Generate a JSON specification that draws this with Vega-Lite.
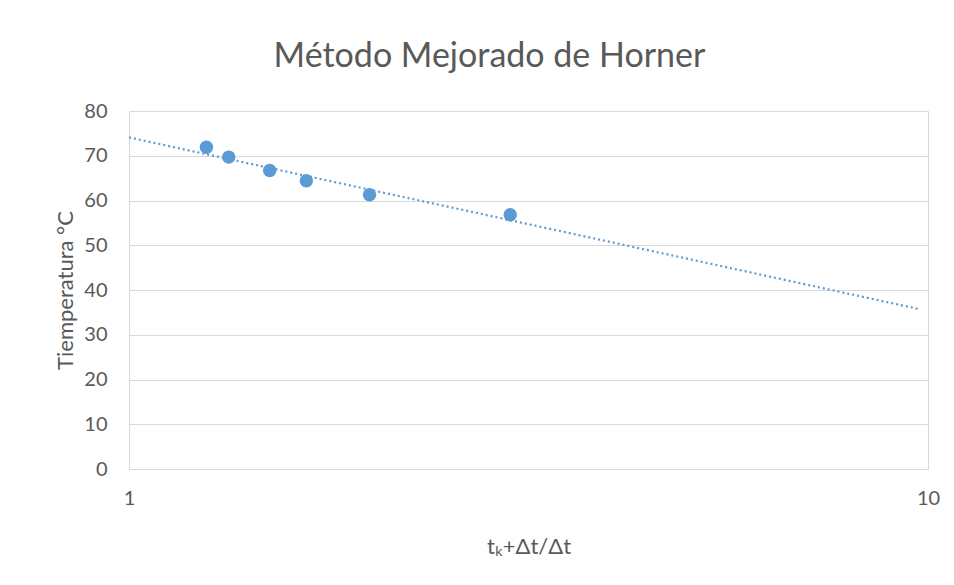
{
  "$schema": "https://vega.github.io/schema/vega-lite/v6.json",
  "width": 799,
  "height": 358,
  "autosize": {"type": "none"},
  "padding": {"left": 129, "top": 111, "right": 26, "bottom": 116},
  "background": "white",
  "title": {
    "text": "Método Mejorado de Horner",
    "font": "Lato",
    "fontSize": 34,
    "fontWeight": "normal",
    "color": "#595959",
    "anchor": "middle",
    "frame": "group",
    "baseline": "alphabetic",
    "offset": 0,
    "dx": -39
  },
  "config": {
    "view": {"stroke": "#D9D9D9", "strokeWidth": 1},
    "axis": {
      "labelFont": "Lato",
      "titleFont": "Lato",
      "labelColor": "#595959",
      "titleColor": "#595959",
      "labelFontSize": 20,
      "titleFontSize": 22,
      "titleFontWeight": "normal",
      "ticks": false,
      "domain": false,
      "labelFlush": false
    }
  },
  "datasets": {
    "pts": [
      {"x": 1.25, "y": 71.9},
      {"x": 1.333, "y": 69.7},
      {"x": 1.5, "y": 66.7},
      {"x": 1.667, "y": 64.4},
      {"x": 2.0, "y": 61.3},
      {"x": 3.0, "y": 56.8}
    ],
    "trend": [
      {"x": 1.0, "y": 74.1},
      {"x": 9.77, "y": 35.7}
    ]
  },
  "layer": [
    {
      "data": {"name": "trend"},
      "mark": {"type": "line", "color": "#5B9BD5", "strokeWidth": 2.2, "strokeDash": [2, 3]},
      "encoding": {
        "x": {"field": "x", "type": "quantitative"},
        "y": {"field": "y", "type": "quantitative"}
      }
    },
    {
      "data": {"name": "pts"},
      "mark": {"type": "point", "filled": true, "opacity": 1, "color": "#5B9BD5", "size": 180},
      "encoding": {
        "x": {
          "field": "x",
          "type": "quantitative",
          "scale": {"type": "log", "domain": [1, 10]},
          "axis": {
            "values": [1, 10],
            "grid": false,
            "domain": true,
            "domainColor": "#D9D9D9",
            "labelPadding": 19,
            "titlePadding": 28,
            "title": "tₖ+Δt/Δt"
          }
        },
        "y": {
          "field": "y",
          "type": "quantitative",
          "scale": {"domain": [0, 80]},
          "axis": {
            "values": [0, 10, 20, 30, 40, 50, 60, 70, 80],
            "grid": true,
            "gridColor": "#D9D9D9",
            "labelPadding": 22,
            "titlePadding": 6,
            "title": "Tiemperatura °C"
          }
        }
      }
    }
  ]
}
